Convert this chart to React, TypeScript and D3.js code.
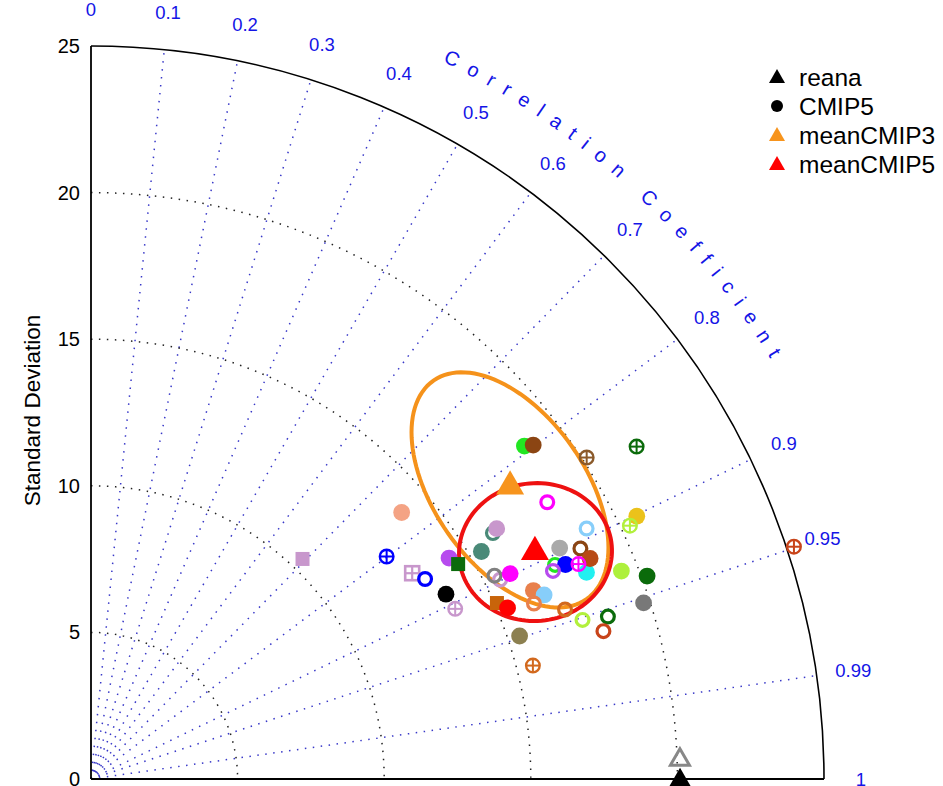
import React from "react";
import * as d3 from "d3";

// ---------- data ----------
const stdTicks = [0, 5, 10, 15, 20, 25];
const stdArcs = [5, 10, 15, 20];
const corrTickValues = [0, 0.1, 0.2, 0.3, 0.4, 0.5, 0.6, 0.7, 0.8, 0.9, 0.95, 0.99, 1];
const corrTickLabels = ["0", "0.1", "0.2", "0.3", "0.4", "0.5", "0.6", "0.7", "0.8", "0.9", "0.95", "0.99", "1"];
const corrLines = [0.1, 0.2, 0.3, 0.4, 0.5, 0.6, 0.7, 0.8, 0.9, 0.95, 0.99];

// CMIP5 individual models (std, correlation, colour, marker)
const modelStd = [13.96, 12.62, 13.01, 13.28, 13.65, 13.71, 14.35, 14.51, 15.41, 16.07, 16.26, 15.52, 15.41, 15.92, 15.09, 15.36, 15.41,
  18.64, 18.9, 20.15, 21.79, 18.2, 18.94, 20.66, 20.31, 17.82, 18.45, 17.43, 17.76, 17.28, 18.31, 18.61, 18.17, 19.43, 20.19, 19.78,
  16.4, 16.68, 16.25, 17.17, 17.62, 18.48, 18.19, 15.56, 10.41, 25.25];
const modelCorr = [0.759, 0.799, 0.842, 0.858, 0.887, 0.906, 0.851, 0.863, 0.864, 0.853, 0.851, 0.899, 0.893, 0.898, 0.9175, 0.925, 0.9486,
  0.793, 0.798, 0.839, 0.854, 0.855, 0.8925, 0.901, 0.905, 0.897, 0.9047, 0.908, 0.9112, 0.9118, 0.923, 0.9147, 0.915, 0.931, 0.9394, 0.9528,
  0.92, 0.9265, 0.9297, 0.9416, 0.9514, 0.954, 0.9608, 0.9686, 0.693, 0.9495];
const modelColor = ["#F4A384", "#0000FF", "#C897CC", "#0000FF", "#000000", "#C897CC", "#B74BEE", "#0B6B0B", "#4A8A78", "#4A8A78", "#C897CC", "#C897CC", "#808080", "#FF00FF", "#C8640A", "#FF0000", "#8C8050",
  "#22E622", "#8B4513", "#8B5A2B", "#0B6B0B", "#FF00FF", "#87CEFA", "#EBC21B", "#B2F03C", "#A9A9A9", "#8B4513", "#22E622", "#0000FF", "#B74BEE", "#22F0F0", "#B84A16", "#FF00FF", "#AEF03C", "#0B6B0B", "#787878",
  "#E8804C", "#87CEFA", "#E8804C", "#D2691E", "#B2F03C", "#0B6B0B", "#C8441A", "#D2691E", "#C897CC", "#C8441A"];
const modelShape = ["dot", "cross", "xsquare", "ring", "dot", "cross", "dot", "square", "dot", "ring", "dot", "ring", "ring", "dot", "square", "dot", "dot",
  "dot", "dot", "cross", "cross", "ring", "ring", "dot", "cross", "dot", "ring", "ring", "dot", "ring", "dot", "dot", "cross", "dot", "dot", "dot",
  "dot", "dot", "ring", "ring", "ring", "ring", "ring", "cross", "square", "cross"];

// triangles: second reanalysis (open), reana, meanCMIP3, meanCMIP5
const triStd = [20.1, 20.09, 17.51, 17.07];
const triCorr = [0.9993, 1.0, 0.8163, 0.887];
const triColor = ["#888888", "#000000", "#F7941D", "#FF0000"];
const triOpen = [true, false, false, false];
const triSide = [19, 26, 28, 28];

// uncertainty ellipses (in std x/y units)
const ellipseCx = [14.29, 15.16];
const ellipseCy = [9.86, 7.74];
const ellipseRx = [4.55, 2.61];
const ellipseRy = [2.58, 2.35];
const ellipseAngle = [-55, 5];
const ellipseColor = ["#F5921B", "#EE1111"];

// legend
const legendNames = ["reana", "CMIP5", "meanCMIP3", "meanCMIP5"];
const legendColors = ["#000000", "#000000", "#F7941D", "#FF0000"];
const legendShapes = ["tri", "dot", "tri", "tri"];

// ---------- layout ----------
const W = 943;
const H = 786;
const OX = 91;
const OY = 779;
const RMAX = 733;
const FONT = "'Liberation Sans', Arial, Helvetica, sans-serif";
const BLUE = "#1414E6";

export default function App() {
  const r = d3.scaleLinear().domain([0, 25]).range([0, RMAX]);
  const xs = d3.scaleLinear().domain([0, 25]).range([OX, OX + RMAX]);
  const ys = d3.scaleLinear().domain([0, 25]).range([OY, OY - RMAX]);
  const px = (s: number, c: number) => xs(s * c);
  const py = (s: number, c: number) => ys(s * Math.sqrt(Math.max(0, 1 - c * c)));

  const arcPath = (rad: number) => {
    const p = d3.path();
    p.arc(0, 0, r(rad), -Math.PI / 2, 0, false);
    return p.toString();
  };

  const ellipsePath = (i: number) => {
    const a = (ellipseAngle[i] * Math.PI) / 180;
    const pts: [number, number][] = d3.range(0, 360, 3).map((deg) => {
      const t = (deg * Math.PI) / 180;
      const ex = ellipseRx[i] * Math.cos(t);
      const ey = ellipseRy[i] * Math.sin(t);
      return [xs(ellipseCx[i] + ex * Math.cos(a) - ey * Math.sin(a)), ys(ellipseCy[i] + ex * Math.sin(a) + ey * Math.cos(a))];
    });
    return d3.line().curve(d3.curveLinearClosed)(pts) || "";
  };

  const triPath = (s: number) => {
    const h = (s * Math.sqrt(3)) / 2;
    return `M0,${-h / 2}L${s / 2},${h / 2}L${-s / 2},${h / 2}Z`;
  };

  const marker = (i: number) => {
    const x = px(modelStd[i], modelCorr[i]);
    const y = py(modelStd[i], modelCorr[i]);
    const col = modelColor[i];
    const sh = modelShape[i];
    if (sh === "dot") return <circle key={i} cx={x} cy={y} r={8.4} fill={col} />;
    if (sh === "ring") return <circle key={i} cx={x} cy={y} r={6.4} fill="none" stroke={col} strokeWidth={3.2} />;
    if (sh === "cross")
      return (
        <g key={i} transform={`translate(${x},${y})`}>
          <circle r={6.8} fill="none" stroke={col} strokeWidth={2.4} />
          <line x1={-6.8} x2={6.8} y1={0} y2={0} stroke={col} strokeWidth={2} />
          <line x1={0} x2={0} y1={-6.8} y2={6.8} stroke={col} strokeWidth={2} />
        </g>
      );
    if (sh === "square") return <rect key={i} x={x - 7} y={y - 7} width={14} height={14} fill={col} />;
    return (
      <g key={i} transform={`translate(${x},${y})`}>
        <rect x={-7} y={-7} width={14} height={14} fill="none" stroke={col} strokeWidth={2.6} />
        <line x1={-7} x2={7} y1={0} y2={0} stroke={col} strokeWidth={2.2} />
        <line x1={0} x2={0} y1={-7} y2={7} stroke={col} strokeWidth={2.2} />
      </g>
    );
  };

  // arc path for the curved title
  const titleR = 799;
  const a0 = (63.9 * Math.PI) / 180;
  const a1 = (20 * Math.PI) / 180;
  const titlePathD = `M${OX + titleR * Math.cos(a0)},${OY - titleR * Math.sin(a0)} A${titleR},${titleR} 0 0 1 ${OX + titleR * Math.cos(a1)},${OY - titleR * Math.sin(a1)}`;

  const labelR = 26.26;

  return (
    <svg width={W} height={H} style={{ position: "absolute", left: 0, top: 0, background: "#fff" }} fontFamily={FONT}>
      <rect width={W} height={H} fill="#fff" />
      {/* radial correlation lines */}
      {corrLines.map((c) => (
        <line key={"cl" + c} x1={OX} y1={OY} x2={px(25, c)} y2={py(25, c)} stroke="#3838C8" strokeWidth={1.5} strokeDasharray="1.5 6.5" />
      ))}
      {/* std arcs */}
      {stdArcs.map((s) => (
        <path key={"sa" + s} d={arcPath(s)} transform={`translate(${OX},${OY})`} fill="none" stroke="#222" strokeWidth={1.5} strokeDasharray="1.5 6.5" />
      ))}
      {/* axes */}
      <path d={arcPath(25)} transform={`translate(${OX},${OY})`} fill="none" stroke="#000" strokeWidth={1.6} />
      <line x1={OX} y1={ys(0)} x2={OX} y2={ys(25)} stroke="#000" strokeWidth={1.8} />
      <line x1={xs(0)} y1={OY} x2={xs(25)} y2={OY} stroke="#000" strokeWidth={1.8} />
      {/* y ticks */}
      {stdTicks.map((s) => (
        <text key={"yt" + s} x={OX - 11} y={ys(s)} textAnchor="end" dominantBaseline="central" fontSize={20} fill="#000">
          {s}
        </text>
      ))}
      <text transform={`translate(32,${ys(12.5) - 2}) rotate(-90)`} textAnchor="middle" dominantBaseline="central" fontSize={22.5} fill="#000">
        Standard Deviation
      </text>
      {/* correlation labels */}
      {corrTickValues.map((c, i) => (
        <text key={"ct" + c} x={px(labelR, c)} y={py(labelR, c)} textAnchor="middle" dominantBaseline="central" fontSize={18.5} fill={BLUE}>
          {corrTickLabels[i]}
        </text>
      ))}
      <defs>
        <path id="titleArc" d={titlePathD} />
      </defs>
      <text fontSize={20} fill={BLUE} letterSpacing={11.4}>
        <textPath href="#titleArc">Correlation Coefficient</textPath>
      </text>
      {/* ellipses */}
      {ellipseCx.map((_, i) => (
        <path key={"el" + i} d={ellipsePath(i)} fill="none" stroke={ellipseColor[i]} strokeWidth={4} />
      ))}
      {/* models */}
      {modelStd.map((_, i) => marker(i))}
      {/* triangles */}
      {triStd.map((s, i) => (
        <path
          key={"tr" + i}
          d={triPath(triSide[i])}
          transform={`translate(${px(s, triCorr[i])},${py(s, triCorr[i])})`}
          fill={triOpen[i] ? "none" : triColor[i]}
          stroke={triOpen[i] ? triColor[i] : "none"}
          strokeWidth={3}
        />
      ))}
      {/* legend */}
      {legendNames.map((n, i) => {
        const y = 77 + i * 29;
        return (
          <g key={"lg" + n}>
            {legendShapes[i] === "tri" ? (
              <path d={triPath(16)} transform={`translate(777,${y - 1})`} fill={legendColors[i]} />
            ) : (
              <circle cx={777} cy={y} r={6} fill={legendColors[i]} />
            )}
            <text x={799} y={y} dominantBaseline="central" fontSize={24.5} fill="#000">
              {n}
            </text>
          </g>
        );
      })}
    </svg>
  );
}
